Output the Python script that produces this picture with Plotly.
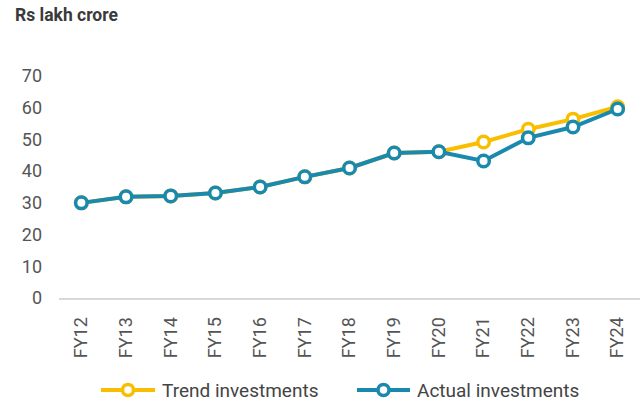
import plotly.graph_objects as go

years = ["FY12", "FY13", "FY14", "FY15", "FY16", "FY17", "FY18", "FY19", "FY20", "FY21", "FY22", "FY23", "FY24"]
trend = [30, 31.9, 32.2, 33.1, 35, 38.2, 41, 45.7, 46.1, 49.2, 53.2, 56.4, 60.3]
actual = [30, 31.9, 32.2, 33.1, 35, 38.2, 41, 45.7, 46.1, 43.2, 50.5, 53.9, 59.6]
yticks = [0, 10, 20, 30, 40, 50, 60, 70]
series_names = ["Trend investments", "Actual investments"]

YEL = "#F9BE00"
BLU = "#1A89AE"
FONT = "Roboto"
W, H = 643, 403
ML, MR, MT, MB = 59, 3, 76, 105
PW, PH = W - ML - MR, H - MT - MB

fig = go.Figure()
for vals, col, name in [(trend, YEL, series_names[0]), (actual, BLU, series_names[1])]:
    fig.add_trace(go.Scatter(x=years, y=vals, name=name, mode="lines+markers",
                             line=dict(color=col, width=4),
                             marker=dict(size=11.5, color="white", line=dict(color=col, width=3.5))))

# custom legend (layout decorations in paper coords)
def px2paper(px, py):
    return (px - ML) / PW, (H - MB - py) / PH

shapes, annotations = [], []
legend_items = [(series_names[0], YEL, 101, 155, 160), (series_names[1], BLU, 357, 410, 415)]
ly = 390
for name, col, x0, x1, tx in legend_items:
    a0, b = px2paper(x0, ly)
    a1, _ = px2paper(x1, ly)
    shapes.append(dict(type="line", xref="paper", yref="paper", x0=a0, x1=a1, y0=b, y1=b,
                       line=dict(color=col, width=4)))
    cx, _ = px2paper((x0 + x1) / 2, ly)
    shapes.append(dict(type="circle", xref="paper", yref="paper", xsizemode="pixel", ysizemode="pixel",
                       xanchor=cx, yanchor=b, x0=-5.5, x1=5.5, y0=-5.5, y1=5.5,
                       fillcolor="white", line=dict(color=col, width=3.5)))
    tpx, _ = px2paper(tx, ly)
    annotations.append(dict(text=name, xref="paper", yref="paper", x=tpx, y=b, xanchor="left",
                            yanchor="middle", showarrow=False,
                            font=dict(size=19, color="#444444", family=FONT)))

tx, ty = px2paper(13, 15)
annotations.append(dict(text="<b>Rs lakh crore</b>", xref="paper", yref="paper", x=tx, y=ty,
                        xanchor="left", yanchor="middle", showarrow=False,
                        font=dict(size=17.5, color="#3a3a3a", family=FONT)))

fig.update_layout(
    width=W, height=H,
    margin=dict(l=ML, r=MR, t=MT, b=MB, autoexpand=False),
    plot_bgcolor="white", paper_bgcolor="white",
    font=dict(family=FONT, color="#555555", size=18),
    showlegend=False,
    xaxis=dict(type="category", range=[-0.5, len(years) - 0.5], tickangle=-90, showgrid=False,
               showline=True, automargin=False,
               linecolor="#d9d9d9", linewidth=2, ticks="", ticklabelstandoff=10,
               tickfont=dict(size=18, color="#555555")),
    yaxis=dict(range=[0, 70], tickvals=yticks, showgrid=False, zeroline=False, showline=False,
               automargin=False, ticks="", tickfont=dict(size=18, color="#555555"),
               ticklabelstandoff=16),
    shapes=shapes,
    annotations=annotations,
)

fig.write_html("out.html", config={"displayModeBar": False},
               post_script="document.body.style.margin='0';document.body.style.overflow='hidden';")
